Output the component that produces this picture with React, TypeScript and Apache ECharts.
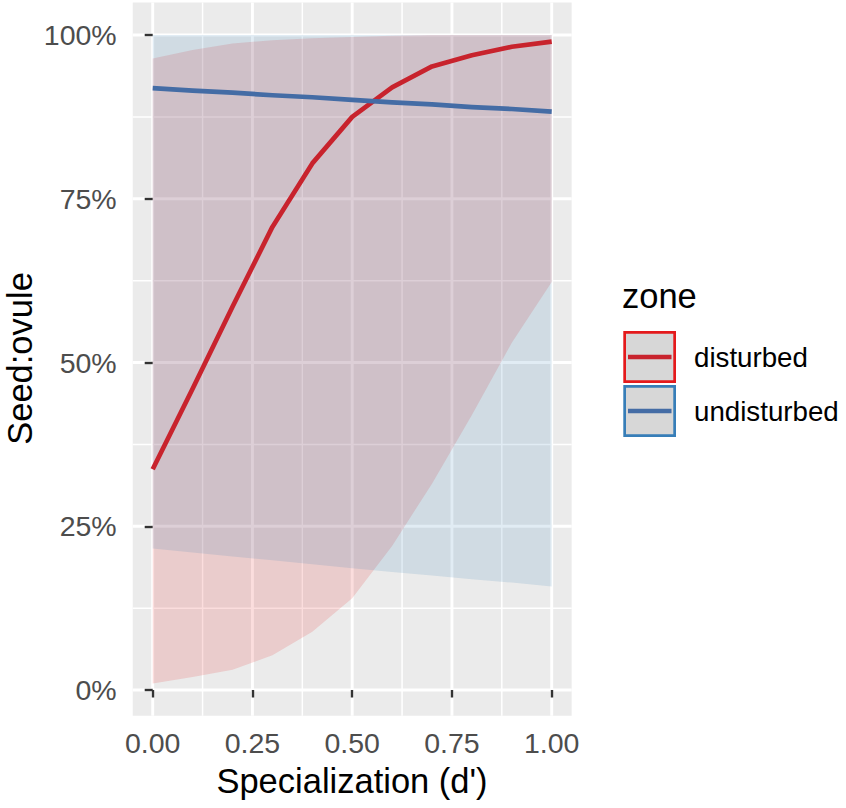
import React, { useEffect, useRef } from "react";
import * as echarts from "echarts";

// ---- data ----
const xValues = [0, 0.1, 0.2, 0.3, 0.4, 0.5, 0.6, 0.7, 0.8, 0.9, 1.0];
const disturbedFit = [0.337, 0.46, 0.585, 0.707, 0.804, 0.875, 0.92, 0.952, 0.969, 0.982, 0.99];
const disturbedLower = [0.01, 0.02, 0.031, 0.053, 0.089, 0.14, 0.22, 0.315, 0.42, 0.53, 0.623];
const disturbedUpper = [0.964, 0.977, 0.987, 0.992, 0.995, 0.997, 0.999, 1.0, 1.0, 1.0, 1.0];
const undisturbedFit = [0.919, 0.915, 0.912, 0.908, 0.905, 0.901, 0.897, 0.894, 0.89, 0.887, 0.883];
const undisturbedLower = [0.216, 0.21, 0.204, 0.198, 0.192, 0.186, 0.18, 0.175, 0.169, 0.164, 0.158];
const undisturbedUpper = [1.0, 1.0, 1.0, 1.0, 1.0, 1.0, 1.0, 1.0, 1.0, 1.0, 1.0];

const xMajor = [0, 0.25, 0.5, 0.75, 1];
const xMinor = [0.125, 0.375, 0.625, 0.875];
const yMajor = [0, 0.25, 0.5, 0.75, 1];
const yMinor = [0.125, 0.375, 0.625, 0.875];
const xLimits = [-0.05, 1.05];
const yLimits = [-0.0395, 1.0495];

const zones = ["disturbed", "undisturbed"];
const lineColors = ["#C8232D", "#446CA5"];
const fillColors = ["rgba(228,26,28,0.15)", "rgba(55,126,184,0.15)"];
const keyBorderColors = ["#E41A1C", "#377EB8"];

const FONT = "'Liberation Sans', Arial, Helvetica, sans-serif";
const TICK_SIZE = 28.5;
const LEGEND_SIZE = 27.7;
const TITLE_SIZE = 34.5;

export default function App() {
  const ref = useRef<HTMLDivElement>(null);

  useEffect(() => {
    if (!ref.current) return;
    const chart = echarts.init(ref.current, null, { renderer: "svg" });

    const background = {
      type: "custom",
      silent: true,
      clip: false,
      z: 0,
      data: [[0, 0]],
      renderItem: (_params: any, api: any) => {
        const tl = api.coord([xLimits[0], yLimits[1]]);
        const br = api.coord([xLimits[1], yLimits[0]]);
        const children: any[] = [
          {
            type: "rect",
            shape: { x: tl[0], y: tl[1], width: br[0] - tl[0], height: br[1] - tl[1] },
            style: { fill: "#EBEBEB" },
          },
        ];
        const vline = (v: number, w: number) => {
          const p = api.coord([v, 0]);
          children.push({
            type: "line",
            shape: { x1: p[0], y1: tl[1], x2: p[0], y2: br[1] },
            style: { stroke: "#FFFFFF", lineWidth: w },
          });
        };
        const hline = (v: number, w: number) => {
          const p = api.coord([0, v]);
          children.push({
            type: "line",
            shape: { x1: tl[0], y1: p[1], x2: br[0], y2: p[1] },
            style: { stroke: "#FFFFFF", lineWidth: w },
          });
        };
        xMinor.forEach((v) => vline(v, 1.5));
        yMinor.forEach((v) => hline(v, 1.5));
        xMajor.forEach((v) => vline(v, 2.9));
        yMajor.forEach((v) => hline(v, 2.9));
        return { type: "group", children };
      },
    };

    const ribbon = (lower: number[], upper: number[], fill: string) => ({
      type: "custom",
      silent: true,
      clip: false,
      z: 1,
      data: [[0, 0]],
      renderItem: (_params: any, api: any) => {
        const pts: number[][] = [];
        xValues.forEach((x, i) => pts.push(api.coord([x, upper[i]])));
        for (let i = xValues.length - 1; i >= 0; i--) pts.push(api.coord([xValues[i], lower[i]]));
        return { type: "polygon", shape: { points: pts }, style: { fill } };
      },
    });

    const line = (name: string, vals: number[], color: string) => ({
      type: "line",
      name,
      z: 3,
      silent: true,
      showSymbol: false,
      symbol: "none",
      data: xValues.map((x, i) => [x, vals[i]]),
      lineStyle: { color, width: 4.7, cap: "butt", join: "round" },
      itemStyle: { color },
    });

    const legendGraphics: any[] = [
      {
        type: "text",
        x: 622,
        y: 296,
        style: {
          text: "zone",
          font: `${TITLE_SIZE}px ${FONT}`,
          fill: "#000000",
          textAlign: "left",
          textVerticalAlign: "middle",
        },
      },
    ];
    zones.forEach((z, i) => {
      const top = 331 + i * 54;
      legendGraphics.push({
        type: "rect",
        shape: { x: 624.65, y: top + 1.35, width: 50, height: 49.3 },
        style: { fill: "#D7D7D7", stroke: keyBorderColors[i], lineWidth: 2.7 },
      });
      legendGraphics.push({
        type: "line",
        shape: { x1: 628, y1: top + 26, x2: 671.5, y2: top + 26 },
        style: { stroke: lineColors[i], lineWidth: 4.7 },
      });
      legendGraphics.push({
        type: "text",
        x: 694,
        y: top + 26.5,
        style: {
          text: z,
          font: `${LEGEND_SIZE}px ${FONT}`,
          fill: "#000000",
          textAlign: "left",
          textVerticalAlign: "middle",
        },
      });
    });

    const option: any = {
      animation: false,
      backgroundColor: "#FFFFFF",
      grid: {
        left: 152.7,
        right: 846 - 551.7,
        top: 35,
        bottom: 808 - 690,
        containLabel: false,
        outerBoundsMode: "none",
      },
      xAxis: {
        type: "value",
        min: 0,
        max: 1,
        interval: 0.25,
        offset: 26,
        axisLine: { show: false },
        axisTick: { show: true, length: 7.5, lineStyle: { color: "#333333", width: 2.4 } },
        splitLine: { show: false },
        minorSplitLine: { show: false },
        axisLabel: {
          margin: 12.5,
          fontSize: TICK_SIZE,
          fontFamily: FONT,
          color: "#4D4D4D",
          formatter: (v: number) => v.toFixed(2),
        },
      },
      yAxis: {
        type: "value",
        min: 0,
        max: 1,
        interval: 0.25,
        offset: 20,
        axisLine: { show: false },
        axisTick: { show: true, length: 8, lineStyle: { color: "#333333", width: 2.4 } },
        splitLine: { show: false },
        minorSplitLine: { show: false },
        axisLabel: {
          margin: 16,
          fontSize: TICK_SIZE,
          fontFamily: FONT,
          color: "#4D4D4D",
          formatter: (v: number) => `${Math.round(v * 100)}%`,
        },
      },
      graphic: [
        {
          type: "text",
          x: 352,
          y: 781,
          style: {
            text: "Specialization (d')",
            font: `${TITLE_SIZE}px ${FONT}`,
            fill: "#000000",
            textAlign: "center",
            textVerticalAlign: "middle",
          },
        },
        {
          type: "text",
          x: 19.7,
          y: 358.5,
          rotation: Math.PI / 2,
          style: {
            text: "Seed:ovule",
            font: `${TITLE_SIZE}px ${FONT}`,
            fill: "#000000",
            textAlign: "center",
            textVerticalAlign: "middle",
          },
        },
        ...legendGraphics,
      ],
      series: [
        background,
        ribbon(disturbedLower, disturbedUpper, fillColors[0]),
        ribbon(undisturbedLower, undisturbedUpper, fillColors[1]),
        line(zones[0], disturbedFit, lineColors[0]),
        line(zones[1], undisturbedFit, lineColors[1]),
      ],
    };

    chart.setOption(option);
    return () => chart.dispose();
  }, []);

  return (
    <div
      ref={ref}
      style={{ position: "absolute", left: 0, top: 0, width: 846, height: 808 }}
    />
  );
}
